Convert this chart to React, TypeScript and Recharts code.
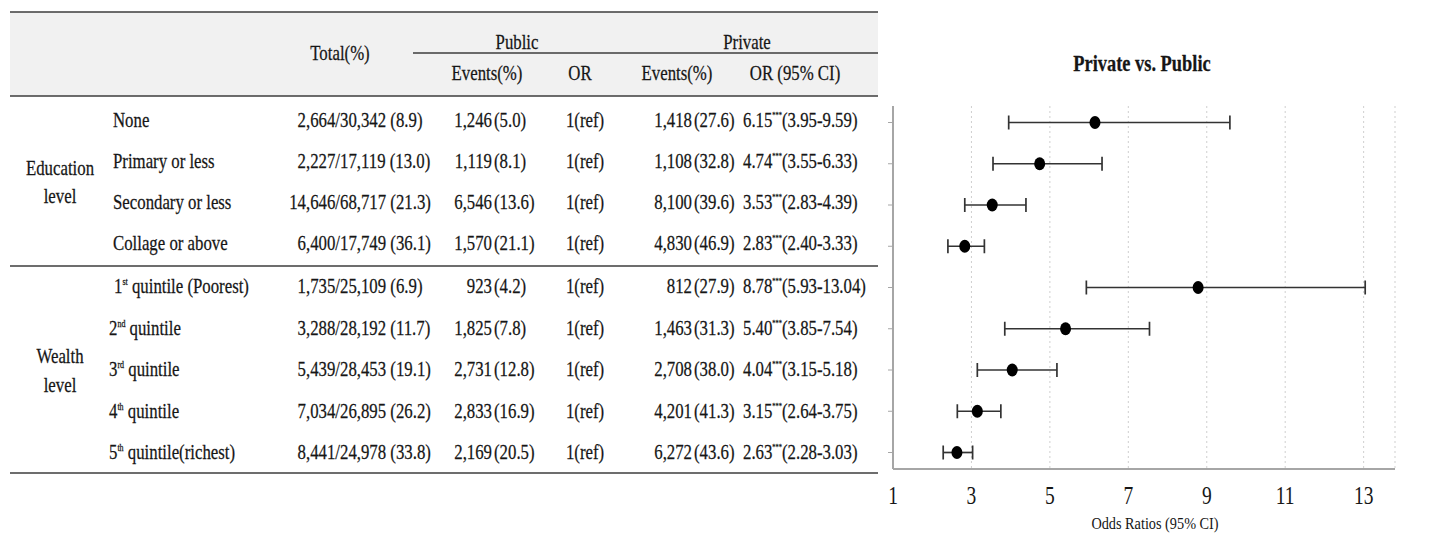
import React from 'react';
import { ScatterChart, Scatter, XAxis, YAxis, CartesianGrid, ErrorBar } from 'recharts';

// table rows (education then wealth)
const educationLabels = ['None', 'Primary or less', 'Secondary or less', 'Collage or above'];
const wealthNumbers = ['1', '2', '3', '4', '5'];
const wealthSuffixes = ['st', 'nd', 'rd', 'th', 'th'];
const wealthNames = [' quintile (Poorest)', ' quintile', ' quintile', ' quintile', ' quintile(richest)'];

const totalCounts = [
    '2,664/30,342 (8.9)', '2,227/17,119 (13.0)', '14,646/68,717 (21.3)', '6,400/17,749 (36.1)',
    '1,735/25,109 (6.9)', '3,288/28,192 (11.7)', '5,439/28,453 (19.1)', '7,034/26,895 (26.2)', '8,441/24,978 (33.8)'
];
const publicEvents = [
    '1,246 (5.0)', '1,119 (8.1)', '6,546 (13.6)', '1,570 (21.1)',
    '923 (4.2)', '1,825 (7.8)', '2,731 (12.8)', '2,833 (16.9)', '2,169 (20.5)'
];
const publicOR = ['1(ref)', '1(ref)', '1(ref)', '1(ref)', '1(ref)', '1(ref)', '1(ref)', '1(ref)', '1(ref)'];
const privateEvents = [
    '1,418 (27.6)', '1,108 (32.8)', '8,100 (39.6)', '4,830 (46.9)',
    '812 (27.9)', '1,463 (31.3)', '2,708 (38.0)', '4,201 (41.3)', '6,272 (43.6)'
];
const orValues = [6.15, 4.74, 3.53, 2.83, 8.78, 5.40, 4.04, 3.15, 2.63];
const ciLow = [3.95, 3.55, 2.83, 2.40, 5.93, 3.85, 3.15, 2.64, 2.28];
const ciHigh = [9.59, 6.33, 4.39, 3.33, 13.04, 7.54, 5.18, 3.75, 3.03];

const xTicks = [1, 3, 5, 7, 9, 11, 13];
const rowTicks = [1, 2, 3, 4, 5, 6, 7, 8, 9];

const plotData = orValues.map((or, i) => ({
    row: i + 1,
    or,
    err: [or - ciLow[i], ciHigh[i] - or]
}));

const FONT = '"Liberation Serif", "Times New Roman", serif';
const SX = 0.8;
const INK = '#161616';
const RULE = '#3c3c3c';

// text squeezed horizontally around its anchor
const T = ({ x, y, anchor = 'start', size = 21, weight = 'normal', children }: any) => (
    <text
        transform={`translate(${x},${y}) scale(${SX},1)`}
        textAnchor={anchor}
        fontSize={size}
        fontWeight={weight}
        fontFamily={FONT}
        fill={INK}
        stroke={INK}
        strokeWidth={0.25}
    >
        {children}
    </text>
);

const rowBaselines = [127, 168, 209, 250, 293, 335, 376, 418, 459];

const XTick = (props: any) => {
    const { x, y, payload } = props;
    return (
        <text
            transform={`translate(${x},${y}) scale(0.75,1)`}
            textAnchor="middle"
            dy="0.7em"
            fontSize={26}
            fontFamily={FONT}
            fill={INK}
        >
            {payload.value}
        </text>
    );
};

const Dot = (props: any) => <ellipse cx={props.cx} cy={props.cy} rx={5.5} ry={6.5} fill="#000" />;

const Table = () => (
    <svg width={1439} height={535} style={{ position: 'absolute', left: 0, top: 0, pointerEvents: 'none' }}>
        <rect x={10} y={12} width={868} height={84} fill="#f1f1f1" />
        <line x1={10} x2={878} y1={12} y2={12} stroke={RULE} strokeWidth={1.5} />
        <line x1={413} x2={878} y1={53} y2={53} stroke={RULE} strokeWidth={1.5} />
        <line x1={10} x2={878} y1={96} y2={96} stroke={RULE} strokeWidth={1.5} />
        <line x1={10} x2={878} y1={266} y2={266} stroke={RULE} strokeWidth={1.5} />
        <line x1={10} x2={878} y1={473} y2={473} stroke={RULE} strokeWidth={1.5} />

        <T x={340} y={60} anchor="middle">Total(%)</T>
        <T x={517} y={49} anchor="middle">Public</T>
        <T x={747} y={49} anchor="middle">Private</T>
        <T x={487} y={80} anchor="middle">Events(%)</T>
        <T x={580} y={80} anchor="middle">OR</T>
        <T x={677} y={80} anchor="middle">Events(%)</T>
        <T x={795} y={80} anchor="middle">OR (95% CI)</T>

        <T x={60} y={175} anchor="middle">Education</T>
        <T x={60} y={203} anchor="middle">level</T>
        <T x={60} y={363} anchor="middle">Wealth</T>
        <T x={60} y={392} anchor="middle">level</T>

        {educationLabels.map((label, i) => (
            <T key={label} x={113} y={rowBaselines[i]}>{label}</T>
        ))}
        {wealthNumbers.map((n, j) => (
            <T key={n} x={j === 0 ? 114 : 109} y={rowBaselines[j + 4]}>
                {n}
                <tspan fontSize={10} dy={-8}>{wealthSuffixes[j]}</tspan>
                <tspan dy={8}>{wealthNames[j]}</tspan>
            </T>
        ))}

        {totalCounts.map((t, i) => {
            const [a, b] = t.split('/');
            return (
                <g key={'t' + i}>
                    <T x={340} y={rowBaselines[i]} anchor="end">{a + '/'}</T>
                    <T x={340} y={rowBaselines[i]}>{b}</T>
                </g>
            );
        })}
        {publicEvents.map((t, i) => {
            const [a, b] = t.split(' ');
            return (
                <g key={'p' + i}>
                    <T x={492} y={rowBaselines[i]} anchor="end">{a}</T>
                    <T x={494} y={rowBaselines[i]}>{b}</T>
                </g>
            );
        })}
        {publicOR.map((t, i) => (
            <T key={'o' + i} x={585} y={rowBaselines[i]} anchor="middle">{t}</T>
        ))}
        {privateEvents.map((t, i) => {
            const [a, b] = t.split(' ');
            return (
                <g key={'v' + i}>
                    <T x={692} y={rowBaselines[i]} anchor="end">{a}</T>
                    <T x={694} y={rowBaselines[i]}>{b}</T>
                </g>
            );
        })}
        {orValues.map((or, i) => (
            <T key={'r' + i} x={743} y={rowBaselines[i]}>
                {or.toFixed(2)}
                <tspan fontSize={8} dy={-9}>***</tspan>
                <tspan dy={9}>{`(${ciLow[i].toFixed(2)}-${ciHigh[i].toFixed(2)})`}</tspan>
            </T>
        ))}

        <T x={1142} y={71} anchor="middle" size={23} weight="bold">Private vs. Public</T>
        <text
            transform="translate(1155,529) scale(0.84,1)"
            textAnchor="middle"
            fontSize={17}
            fontFamily={FONT}
            fill={INK}
        >
            Odds Ratios (95% CI)
        </text>
    </svg>
);

export default function App() {
    return (
        <div style={{ position: 'absolute', left: 0, top: 0, width: 1439, height: 535, background: '#fff' }}>
            <ScatterChart width={1439} height={535} margin={{ top: 106, right: 44, bottom: 26, left: 883 }}>
                <CartesianGrid horizontal={false} strokeDasharray="2 3" stroke="#cfcfcf" />
                <XAxis
                    type="number"
                    dataKey="or"
                    domain={[1, 13.8]}
                    ticks={xTicks}
                    interval={0}
                    allowDataOverflow
                    tickLine={false}
                    tickMargin={11}
                    height={40}
                    axisLine={{ stroke: '#a6a6a6', strokeWidth: 2 }}
                    tick={<XTick />}
                />
                <YAxis
                    type="number"
                    dataKey="row"
                    domain={[0.6, 9.4]}
                    ticks={rowTicks}
                    interval={0}
                    reversed
                    allowDataOverflow
                    width={10}
                    tickSize={5}
                    tick={() => <g />}
                    tickLine={{ stroke: '#a6a6a6' }}
                    axisLine={{ stroke: '#a6a6a6', strokeWidth: 2 }}
                />
                <Scatter data={plotData} isAnimationActive={false} shape={<Dot />}>
                    <ErrorBar dataKey="err" direction="x" width={7} stroke="#333" strokeWidth={1.7} isAnimationActive={false} />
                </Scatter>
            </ScatterChart>
            <Table />
        </div>
    );
}
